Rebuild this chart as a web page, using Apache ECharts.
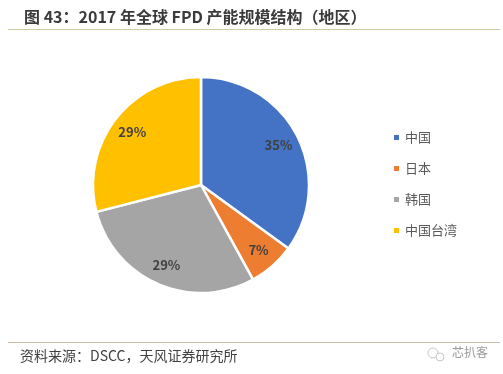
<!DOCTYPE html>
<html><head><meta charset="utf-8">
<script src="https://cdn.jsdelivr.net/npm/echarts@6/dist/echarts.min.js"></script>
<style>html,body{margin:0;padding:0;background:#fff}#c{width:503px;height:374px}</style>
</head><body><div id="c"></div>
<script>
var categories = ['中国', '日本', '韩国', '中国台湾'];
var values = [35, 7, 29, 29];
var colors = ['#4472C4', '#ED7D31', '#A5A5A5', '#FFC000'];
var titleText = '图 43：2017 年全球 FPD 产能规模结构（地区）';
var sourceText = '资料来源：DSCC，天风证券研究所';
var watermark = '芯扒客';

var font = '"Noto Sans CJK SC", "Microsoft YaHei", sans-serif';
var data = categories.map(function (n, i) { return { name: n, value: values[i], itemStyle: { color: colors[i] } }; });
var chart = echarts.init(document.getElementById('c'), null, { renderer: 'canvas' });
chart.setOption({
  backgroundColor: '#fff',
  animation: false,
  title: {
    text: titleText, left: 19, top: 4,
    textStyle: { fontFamily: font, fontSize: 16, fontWeight: 'bold', color: '#3a3a3a' }
  },
  legend: {
    orient: 'vertical', left: 387, top: 126,
    icon: 'rect', itemWidth: 7, itemHeight: 7, itemGap: 18,
    data: categories,
    textStyle: { fontFamily: font, fontSize: 13, color: '#595959', padding: [0, 0, 0, 0] }
  },
  graphic: [
    { type: 'line', shape: { x1: 8, y1: 29.5, x2: 500, y2: 29.5 }, style: { stroke: '#cdc9a3', lineWidth: 1 } },
    { type: 'line', shape: { x1: 8, y1: 342.5, x2: 500, y2: 342.5 }, style: { stroke: '#c9b9a9', lineWidth: 1 } },
    { type: 'text', left: 20, top: 349, style: { text: sourceText, font: '14px ' + font, fill: '#404040' } },
    { type: 'text', left: 452, top: 346, style: { text: watermark, font: '12px ' + font, fill: '#9a9a9a' } },
    { type: 'circle', shape: { cx: 433, cy: 353, r: 5 }, style: { fill: 'none', stroke: '#c8c8c8', lineWidth: 1 } },
    { type: 'circle', shape: { cx: 440, cy: 357, r: 4 }, style: { fill: '#fff', stroke: '#c8c8c8', lineWidth: 1 } }
  ],
  series: [
    {
      type: 'pie', center: [201, 185], radius: [0, 108], startAngle: 90, clockwise: true,
      silent: true, label: { show: false }, labelLine: { show: false },
      itemStyle: { borderColor: '#fff', borderWidth: 2.5 },
      data: data
    },
    {
      type: 'pie', center: [201, 185], radius: [60, 108], startAngle: 90, clockwise: true,
      silent: true, legendHoverLink: false,
      itemStyle: { color: 'rgba(0,0,0,0)', borderWidth: 0 },
      label: { show: true, position: 'inside', formatter: function (p) { return p.value + '%'; },
        fontFamily: font, fontSize: 13, fontWeight: 'bold', color: '#404040' },
      labelLine: { show: false },
      data: categories.map(function (n, i) { return { name: n + ' ', value: values[i] }; })
    }
  ]
});
</script></body></html>
